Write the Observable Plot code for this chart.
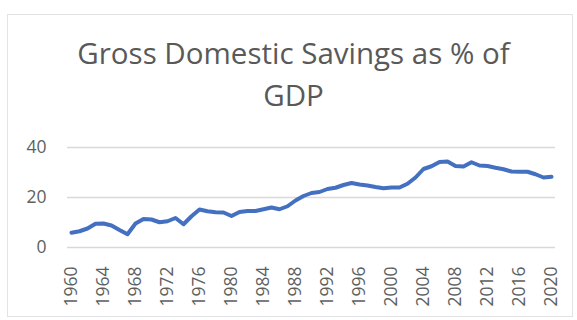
<!DOCTYPE html>
<html>
<head>
<meta charset="utf-8">
<script src="https://cdn.jsdelivr.net/npm/d3@7"></script>
<script src="https://cdn.jsdelivr.net/npm/@observablehq/plot@0.6"></script>
<style>
  html, body { margin: 0; padding: 0; background: #fff; }
  #wrap { position: relative; width: 577px; height: 320px; overflow: hidden; font-family: "Open Sans", sans-serif; }
  #frame { position: absolute; left: 7px; top: 14px; width: 566px; height: 303px; border: 1px solid #e3e3e3; box-sizing: border-box; }
  #title { position: relative; height: 125px; box-sizing: border-box; padding-top: 32px; padding-left: 10px; text-align: center; color: #595959; font-size: 29.5px; line-height: 42px; }
  #chart svg { display: block; }
</style>
</head>
<body>
<div id="wrap">
  <div id="frame"></div>
  <div id="title">Gross Domestic Savings as % of<br>GDP</div>
  <div id="chart"></div>
</div>
<script>
const years = d3.range(1960, 2021);
const savings = [
  5.9, 6.5, 7.6, 9.5, 9.6, 8.8, 7.0, 5.3, 9.6, 11.4,
  11.2, 10.1, 10.5, 11.8, 9.3, 12.5, 15.2, 14.5, 14.1, 14.0,
  12.6, 14.2, 14.6, 14.6, 15.3, 16.0, 15.3, 16.5, 18.8, 20.6,
  21.8, 22.2, 23.4, 23.9, 25.0, 25.8, 25.2, 24.8, 24.2, 23.7,
  24.0, 24.0, 25.5, 28.0, 31.4, 32.5, 34.2, 34.4, 32.6, 32.4,
  34.1, 32.8, 32.6, 31.9, 31.3, 30.4, 30.3, 30.3, 29.3, 28.0,
  28.3
];
const yTicks = [0, 20, 40];
const xTicks = d3.range(1960, 2021, 4);

const data = years.map((y, i) => ({year: y, value: savings[i]}));

const chart = Plot.plot({
  width: 577,
  height: 195,
  marginTop: 22,
  marginBottom: 73,
  marginLeft: 71,
  marginRight: 26,
  style: {fontFamily: "Open Sans, sans-serif", fontSize: "17.5px", color: "#5f5f5f", background: "transparent"},
  x: {domain: [1960, 2020], label: null},
  y: {domain: [0, 40], label: null},
  marks: [
    Plot.ruleY(yTicks, {x1: 1959.5, x2: 2020.5, stroke: "#d9d9d9", strokeWidth: 1.5}),
    Plot.axisY(yTicks, {tickSize: 0, tickPadding: 25, label: null, fill: "#5f5f5f"}),
    Plot.axisX(xTicks, {tickSize: 0, tickPadding: 19, tickRotate: -90, tickFormat: d => String(d), label: null, fill: "#5f5f5f"}),
    Plot.line(data, {x: "year", y: "value", stroke: "#4470C2", strokeWidth: 4, strokeLinejoin: "round", strokeLinecap: "round"})
  ]
});
document.getElementById("chart").appendChild(chart);
</script>
</body>
</html>
